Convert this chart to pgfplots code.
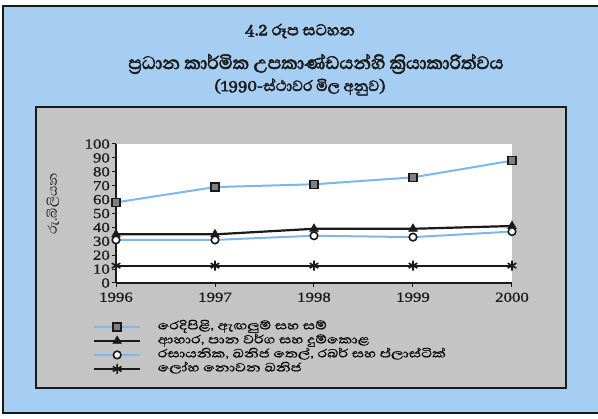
\documentclass[border=0pt]{standalone}
\usepackage{pgfplots}
\pgfplotsset{compat=1.18}
\usepackage{fontspec}
\setmainfont{Liberation Serif}
\newfontfamily\sinfont[Script=Sinhala, FakeStretch=1.08]{Abhaya Libre}
\newfontfamily\legfont[Script=Sinhala, FakeStretch=1.28, FakeBold=0.6]{Abhaya Libre}
\newfontfamily\sinbold[Script=Sinhala, FakeBold=2.5]{Abhaya Libre}
\newfontfamily\tickfont[FakeStretch=1.2, FakeBold=0.8]{Liberation Serif}
\definecolor{frameblue}{HTML}{A6CDF2}
\definecolor{lineblue}{HTML}{7DB8EC}
\definecolor{panelgray}{HTML}{C4C4C4}
\definecolor{ink}{HTML}{1A1A1A}

\pgfplotstableread{
year tex food chem nonmet
1996 58 35 31 12.5
1997 69 35 31 12.5
1998 71 39 34 12.5
1999 76 39 33 12.5
2000 88 41 37 12.5
}\datatable

\begin{document}
\begin{tikzpicture}[x=1pt,y=1pt]
\path[use as bounding box] (0,0) rectangle (598,419);
\fill[frameblue] (3,6) rectangle (598,413);
\draw[ink, line width=1.5pt] (598,413) -- (3,413) -- (3,6) -- (598,6);
\fill[panelgray] (36,31) rectangle (566,312);
\draw[ink, line width=1.5pt] (36,31) rectangle (566,312);
\node[font=\sinbold\fontsize{20}{22}\selectfont, text=ink] at (300,388) {4.2 රූප සටහන};
\node[font=\sinbold\fontsize{23}{25}\selectfont, text=ink] at (316,355) {ප්‍රධාන කාර්මික උපකාණ්ඩයන්හි ක්‍රියාකාරිත්වය};
\node[font=\sinbold\fontsize{19}{21}\selectfont, text=ink] at (300,332) {(1990-ස්ථාවර මිල අනුව)};
\node[font=\sinfont\fontsize{16}{18}\selectfont, rotate=90, text=ink] at (53,215) {රු.බිලියන};
\begin{axis}[
  at={(116pt,136pt)}, anchor=south west,
  scale only axis, width=396pt, height=139pt,
  xmin=1996, xmax=2000, ymin=0, ymax=100,
  xtick={1996,1997,1998,1999,2000},
  ytick={0,10,...,100},
  axis x line=bottom, axis y line=left,
  axis line style={-, line width=1.3pt, ink},
  tick align=outside, major tick length=4pt,
  tick style={ink, line width=1pt},
  /pgf/number format/1000 sep={},
  /pgf/number format/assume math mode=true,
  tick label style={font=\tickfont\fontsize{14}{14}\selectfont, text=ink},
  yticklabel style={inner sep=1pt, xshift=-1pt},
  xticklabel style={yshift=-2pt},
  axis background/.style={fill=white},
  clip=false,
  legend style={draw=none, fill=none,
    at={(axis description cs:-0.066,-0.25)}, anchor=north west,
    font=\legfont\fontsize{15}{15}\selectfont,
    nodes={inner sep=0.5pt, text height=9pt, text depth=4pt},
    column sep=16pt, row sep=0pt},
  legend cell align=left,
  legend image code/.code={\draw[mark repeat=2,mark phase=2,#1] plot coordinates {(0pt,0pt) (23pt,0pt) (46pt,0pt)};},
]
\addplot[lineblue, line width=2pt, mark=square*, mark size=4pt,
  mark options={fill=gray, draw=ink, line width=1.4pt, solid}]
  table[x=year, y=tex] {\datatable};
\addlegendentry{රෙදිපිළි, ඇඟලුම් සහ සම්}
\addplot[ink, line width=2.2pt, mark=triangle*, mark size=5pt,
  mark options={fill=ink, draw=ink, line width=0.5pt, solid}]
  table[x=year, y=food] {\datatable};
\addlegendentry{ආහාර, පාන වර්ග සහ දුම්කොළ}
\addplot[lineblue, line width=2pt, mark=*, mark size=3.8pt,
  mark options={fill=white, draw=ink, line width=1.6pt, solid}]
  table[x=year, y=chem] {\datatable};
\addlegendentry{රසායනික, ඛනිජ තෙල්, රබර් සහ ප්ලාස්ටික්}
\addplot[ink, line width=2.2pt, mark=asterisk, mark size=5pt,
  mark options={draw=ink, line width=1.6pt, solid}]
  table[x=year, y=nonmet] {\datatable};
\addlegendentry{ලෝහ නොවන ඛනිජ}
\end{axis}
\end{tikzpicture}
\end{document}
